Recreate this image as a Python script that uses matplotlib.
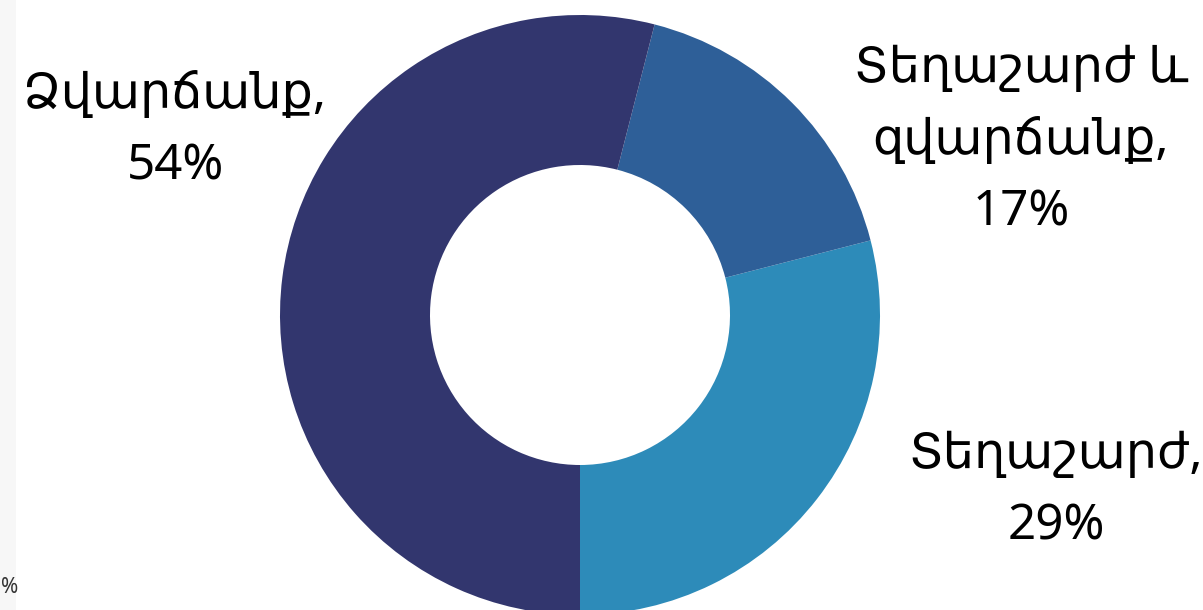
import matplotlib
matplotlib.use("Agg")
import matplotlib.pyplot as plt
from matplotlib.patches import Rectangle

# Տվյալներ
labels = ["Տեղաշարժ,\n29%", "Տեղաշարժ և\nզվարճանք,\n17%", "Ձվարճանք,\n54%"]
values = [29, 17, 54]
colors = ["#2D8BB9", "#2E5F98", "#32366E"]

# label anchor (center x, first baseline y in px from top)
label_pos = [(1056, 468), (1021, 82), (175, 108)]
line_step = 72

plt.rcParams["font.family"] = ["Noto Sans", "DejaVu Sans"]

W, H = 1203, 610
fig = plt.figure(figsize=(W / 100, H / 100), dpi=100)
ax = fig.add_axes([0, 0, 1, 1])
ax.set_xlim(0, W)
ax.set_ylim(0, H)
ax.set_aspect("equal")
ax.axis("off")

# light strip on the left edge (cropped neighbour slide)
ax.add_patch(Rectangle((0, 0), 16, H, color="#F7F7F7", lw=0, zorder=0))
ax.text(1, H - 593, "%", fontsize=15, color="#333333", va="baseline", zorder=1)

ax.pie(values, colors=colors, startangle=-90, counterclock=True,
       center=(580, H - 315), radius=300,
       wedgeprops=dict(width=150, linewidth=0))
ax.set_xlim(0, W)
ax.set_ylim(0, H)

for lab, (x, y) in zip(labels, label_pos):
    for i, line in enumerate(lab.split("\n")):
        ax.text(x, H - (y + i * line_step), line, ha="center", va="baseline",
                fontsize=35.5, color="black")

fig.savefig("out.png", dpi=100)
